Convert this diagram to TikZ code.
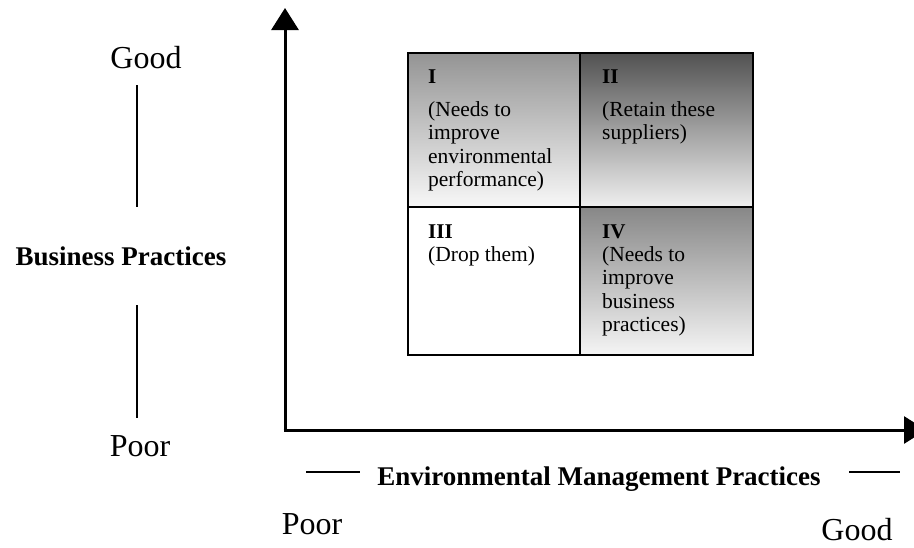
\documentclass[tikz,border=0pt]{standalone}
\usepackage{fontspec}
\setmainfont{Liberation Serif}
\usetikzlibrary{arrows.meta}
\begin{document}
\begin{tikzpicture}[x=1pt,y=-1pt,
  axis/.style={line width=3pt,-{Triangle[width=27pt,length=22pt]}},
  guide/.style={line width=2.3pt},
  gridline/.style={line width=2pt},
  scalelabel/.style={font=\fontsize{32}{36}\selectfont,anchor=base,inner sep=0pt},
  axistitle/.style={font=\bfseries\fontsize{27}{30}\selectfont,anchor=base,inner sep=0pt},
  numeral/.style={font=\bfseries\fontsize{21}{24}\selectfont,anchor=base west,inner sep=0pt},
  celltext/.style={font=\fontsize{21.5}{23.5}\selectfont,anchor=base west,inner sep=0pt}]
\useasboundingbox (0,0) rectangle (914,547);

% axes
\coordinate (origin) at (285,430);
\coordinate (ytip) at (285,8);
\coordinate (xtip) at (926,430);
\draw[axis] (origin) -- (ytip);
\draw[axis] ([xshift=-1.5pt]origin) -- (xtip);

% quadrant shading
\shade[top color=black!42, bottom color=white!97!black] (408,53) rectangle (580,207);
\shade[top color=black!68, bottom color=white!94!black] (580,53) rectangle (753,207);
\fill[white] (408,207) rectangle (580,355);
\shade[top color=black!47, bottom color=white!96!black] (580,207) rectangle (753,355);

% quadrant grid
\draw[line width=2.5pt] (408,53) rectangle (753,355);
\draw[gridline] (580,53) -- (580,355);
\draw[gridline] (408,207) -- (753,207);

% quadrant labels
\node[numeral] (q1n) at (428,83) {I};
\node[celltext] (q1t) at (428,116) {\begin{tabular}[t]{@{}l@{}}(Needs to\\improve\\environmental\\performance)\end{tabular}};
\node[numeral] (q2n) at (602,83) {II};
\node[celltext] (q2t) at (602,116) {\begin{tabular}[t]{@{}l@{}}(Retain these\\suppliers)\end{tabular}};
\node[numeral] (q3n) at (428,238) {III};
\node[celltext] (q3t) at (428,261) {\begin{tabular}[t]{@{}l@{}}(Drop them)\end{tabular}};
\node[numeral] (q4n) at (602,238) {IV};
\node[celltext] (q4t) at (602,261) {\begin{tabular}[t]{@{}l@{}}(Needs to\\improve\\business\\practices)\end{tabular}};

% vertical scale
\node[scalelabel] (ygood) at (146,68) {Good};
\node[axistitle] (ytitle) at (121,265) {Business Practices};
\node[scalelabel] (ypoor) at (140,456) {Poor};
\coordinate (yg1) at (137,85);
\coordinate (yg2) at (137,207);
\coordinate (yp1) at (137,305);
\coordinate (yp2) at (137,418);
\draw[guide] (yg1) -- (yg2);
\draw[guide] (yp1) -- (yp2);

% horizontal scale
\node[axistitle] (xtitle) at (599,485) {Environmental Management Practices};
\coordinate (xd1) at (306,472);
\coordinate (xd2) at (360,472);
\coordinate (xd3) at (849,472);
\coordinate (xd4) at (900,472);
\draw[guide] (xd1) -- (xd2);
\draw[guide] (xd3) -- (xd4);
\node[scalelabel] (xpoor) at (312,534) {Poor};
\node[scalelabel] (xgood) at (857,540) {Good};
\end{tikzpicture}
\end{document}
